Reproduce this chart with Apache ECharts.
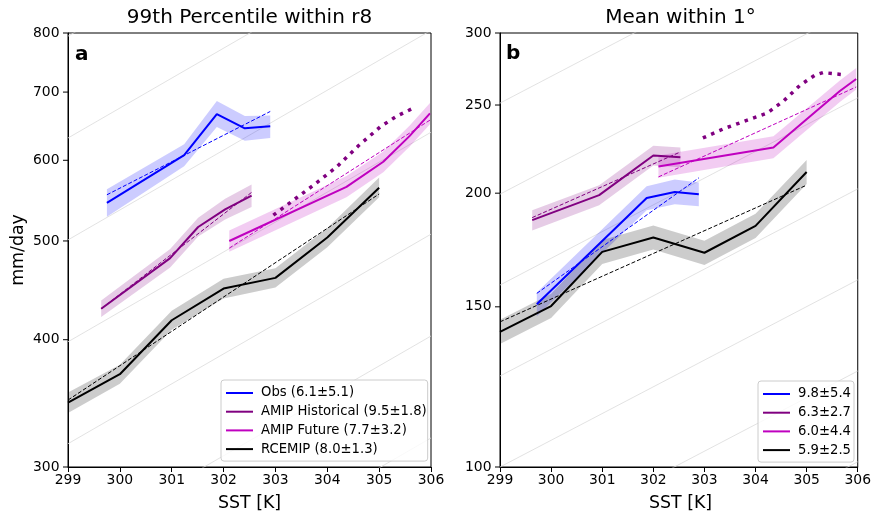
<!DOCTYPE html>
<html><head><meta charset="utf-8">
<script src="https://cdn.jsdelivr.net/npm/echarts@6/dist/echarts.min.js"></script>
<style>html,body{margin:0;padding:0;background:#fff}#c{width:874px;height:513px}</style>
</head><body><div id="c"></div>
<script>
// ---------- data ----------
const sstMin = 299, sstMax = 306;
const yTicksA = [300, 400, 500, 600, 700, 800];
const yTicksB = [100, 150, 200, 250, 300];

// Panel a : 99th percentile within r8
const obsA_sst = [299.75, 301.24, 301.87, 302.41, 302.90];
const obsA_val = [545, 607, 666, 645, 648];
const obsA_lo  = [528, 592, 647, 627, 631];
const obsA_hi  = [562, 622, 686, 663, 664];
const obsA_fitSst = [299.75, 302.90];
const obsA_fit    = [555, 670];

const histA_sst = [299.64, 300.97, 301.51, 302.03, 302.54];
const histA_val = [429, 481, 516, 537, 554];
const histA_lo  = [421, 471, 505, 525, 540];
const histA_hi  = [437, 491, 527, 550, 568];
const histA_fitSst = [299.64, 302.54];
const histA_fit    = [429, 558];

const futA_sst = [302.11, 304.37, 305.08, 305.59, 305.98];
const futA_val = [500, 565, 598, 634, 667];
const futA_lo  = [488, 552, 584, 619, 651];
const futA_hi  = [512, 579, 612, 649, 683];
const futA_fitSst = [302.11, 305.98];
const futA_fit    = [492, 657];

const rceA_sst = [299, 300, 301, 302, 303, 304, 305];
const rceA_val = [347, 370, 418, 449, 460, 504, 564];
const rceA_lo  = [339, 362, 409, 439, 450, 493, 552];
const rceA_hi  = [355, 378, 427, 459, 470, 515, 577];
const rceA_fitSst = [299, 305];
const rceA_fit    = [349, 556];

const dotA_sst = [302.96, 303.73, 304.18, 304.60, 305.02, 305.34, 305.71];
const dotA_val = [530, 567, 591, 620, 647, 663, 677];

// Panel b : mean within 1 degree
const obsB_sst = [299.72, 301.87, 302.42, 302.89];
const obsB_val = [151, 197.6, 200.6, 199.5];
const obsB_lo  = [146.5, 191.5, 194.5, 193.5];
const obsB_hi  = [155.5, 203.5, 207, 205.5];
const obsB_fitSst = [299.72, 302.89];
const obsB_fit    = [155.2, 207.9];

const histB_sst = [299.63, 300.94, 302.00, 302.53];
const histB_val = [186.8, 199, 220, 219];
const histB_lo  = [182, 194, 214.5, 213.5];
const histB_hi  = [191.5, 204, 225.5, 224.5];
const histB_fitSst = [299.63, 302.53];
const histB_fit    = [188, 222];

const futB_sst = [302.10, 304.35, 305.65, 305.97];
const futB_val = [214, 224.5, 259, 267];
const futB_lo  = [208, 218.5, 252, 260];
const futB_hi  = [220, 231, 266, 274.5];
const futB_fitSst = [302.10, 305.97];
const futB_fit    = [208.4, 261.7];

const rceB_sst = [299, 300, 301, 302, 303, 304, 305];
const rceB_val = [140.8, 150.3, 172.4, 178.8, 172, 184.1, 211];
const rceB_lo  = [136.5, 145.8, 167.2, 173.4, 166.8, 178.6, 204.7];
const rceB_hi  = [145.2, 155, 177.7, 184.3, 177.3, 189.8, 217.5];
const rceB_fitSst = [299, 305];
const rceB_fit    = [144.4, 204.1];

const dotB_sst = [302.97, 303.39, 303.84, 304.23, 304.55, 304.87, 305.16, 305.32, 305.71];
const dotB_val = [230, 235.6, 240.6, 245, 252.6, 262.8, 269.6, 271.4, 270];

// Clausius-Clapeyron guide lines (7 %/K), level at 299 K
const ccRate = 1.07;
const ccLevelsA = [199.5, 251.2, 316.2, 398.1, 501.2, 631.0, 794.3];
const ccLevelsB = [63.1, 79.4, 100, 125.9, 158.5, 199.5, 251.2];

const namesA = ['Obs (6.1±5.1)', 'AMIP Historical (9.5±1.8)', 'AMIP Future (7.7±3.2)', 'RCEMIP (8.0±1.3)'];
const namesB = ['9.8±5.4', '6.3±2.7', '6.0±4.4', '5.9±2.5'];

// ---------- styling ----------
const FONT = 'DejaVu Sans';
const C_OBS = '#0000ff', C_HIST = '#800080', C_FUT = '#bf00bf', C_RCE = '#000000';
const B_OBS = 'rgba(0,0,255,0.2)', B_HIST = 'rgba(128,0,128,0.2)', B_FUT = 'rgba(191,0,191,0.2)', B_RCE = 'rgba(0,0,0,0.2)';

function pts(xs, ys) { return xs.map((x, i) => [x, ys[i]]); }

function lineS(name, xs, ys, color, gi, z) {
  return { type: 'line', name: name, xAxisIndex: gi, yAxisIndex: gi, data: pts(xs, ys),
    symbol: 'none', showSymbol: false, color: color, silent: true, z: z || 5,
    lineStyle: { color: color, width: 2 }, emphasis: { disabled: true } };
}
function fitS(xs, ys, color, gi) {
  return { type: 'line', xAxisIndex: gi, yAxisIndex: gi, data: pts(xs, ys), symbol: 'none',
    silent: true, z: 4, lineStyle: { color: color, width: 1, type: [4, 2] }, emphasis: { disabled: true } };
}
function dotS(xs, ys, color, gi) {
  return { type: 'line', xAxisIndex: gi, yAxisIndex: gi, data: pts(xs, ys), symbol: 'none',
    silent: true, z: 5, lineStyle: { color: color, width: 3.5, type: [3.5, 5.5], cap: 'butt' },
    emphasis: { disabled: true } };
}
function bandS(xs, lo, hi, fill, gi) {
  return { type: 'custom', xAxisIndex: gi, yAxisIndex: gi, silent: true, z: 3,
    data: xs.map((x, i) => [x, lo[i], hi[i]]), encode: { x: 0, y: [1, 2] },
    renderItem: function (params, api) {
      if (params.dataIndex !== 0) return null;
      const p = [];
      for (let i = 0; i < xs.length; i++) p.push(api.coord([xs[i], hi[i]]));
      for (let i = xs.length - 1; i >= 0; i--) p.push(api.coord([xs[i], lo[i]]));
      return { type: 'polygon', shape: { points: p }, style: { fill: fill, stroke: null } };
    } };
}
function ccS(levels, gi) {
  return levels.map(v => ({ type: 'line', xAxisIndex: gi, yAxisIndex: gi, silent: true, z: 1,
    data: [[sstMin, v], [sstMax, v * Math.pow(ccRate, sstMax - sstMin)]], symbol: 'none',
    clip: true, lineStyle: { color: '#dadada', width: 0.8 }, emphasis: { disabled: true } }));
}
function yTickS(ticks, gi) {
  return { type: 'custom', xAxisIndex: gi, yAxisIndex: gi, silent: true, z: 10, clip: false,
    data: ticks.map(t => [sstMin, t]), encode: { x: 0, y: 1 },
    renderItem: function (params, api) {
      const v = api.value(1);
      const p = api.coord([api.value(0), v]);
      return { type: 'group', children: [
        { type: 'line', shape: { x1: p[0] - 5, y1: p[1], x2: p[0], y2: p[1] }, style: { stroke: '#000', lineWidth: 1 } },
        { type: 'text', x: p[0] - 8.5, y: p[1], style: { text: String(v), fontSize: 13.9, fontFamily: FONT,
          fill: '#000', align: 'right', verticalAlign: 'middle' } }
      ] };
    } };
}

function xAx(gi) {
  return { type: 'value', gridIndex: gi, min: sstMin, max: sstMax, interval: 1,
    axisLine: { show: true, onZero: false, lineStyle: { color: '#000', width: 1 } },
    axisTick: { show: true, length: 5, lineStyle: { color: '#000', width: 1 } },
    axisLabel: { fontSize: 13.9, fontFamily: FONT, color: '#000', margin: 6 },
    splitLine: { show: false } };
}
function yAx(gi, mn, mx) {
  return { type: 'log', logBase: 10, gridIndex: gi, min: mn, max: mx,
    axisLine: { show: true, lineStyle: { color: '#000', width: 1 } },
    axisTick: { show: false }, minorTick: { show: false }, axisLabel: { show: false },
    splitLine: { show: false }, minorSplitLine: { show: false } };
}
function legendOf(names, left, top, padR) {
  return { data: names, orient: 'vertical', left: left, top: top, icon: 'rect',
    itemWidth: 27, itemHeight: 2, itemGap: 4.7, padding: [6, padR, 5, 5], selectedMode: false,
    borderColor: '#cccccc', borderWidth: 1, borderRadius: 3, backgroundColor: 'rgba(255,255,255,0.8)',
    textStyle: { fontSize: 13.2, fontFamily: FONT, color: '#000', lineHeight: 14, padding: [0, 0, 0, 3] } };
}
function txt(t, x, y, size, opts) {
  return Object.assign({ type: 'text', x: x, y: y, z: 100,
    style: Object.assign({ text: t, fontSize: size, fontFamily: FONT, fill: '#000', align: 'center', verticalAlign: 'middle' },
      (opts && opts.style) || {}) }, (opts && opts.el) || {});
}

const series = [].concat(
  ccS(ccLevelsA, 0), ccS(ccLevelsB, 1),
  [
    bandS(obsA_sst, obsA_lo, obsA_hi, B_OBS, 0),
    bandS(histA_sst, histA_lo, histA_hi, B_HIST, 0),
    bandS(futA_sst, futA_lo, futA_hi, B_FUT, 0),
    bandS(rceA_sst, rceA_lo, rceA_hi, B_RCE, 0),
    fitS(obsA_fitSst, obsA_fit, C_OBS, 0),
    fitS(histA_fitSst, histA_fit, C_HIST, 0),
    fitS(futA_fitSst, futA_fit, C_FUT, 0),
    fitS(rceA_fitSst, rceA_fit, C_RCE, 0),
    lineS(namesA[0], obsA_sst, obsA_val, C_OBS, 0),
    lineS(namesA[1], histA_sst, histA_val, C_HIST, 0),
    lineS(namesA[2], futA_sst, futA_val, C_FUT, 0),
    lineS(namesA[3], rceA_sst, rceA_val, C_RCE, 0),
    dotS(dotA_sst, dotA_val, C_HIST, 0),
    yTickS(yTicksA, 0),

    bandS(obsB_sst, obsB_lo, obsB_hi, B_OBS, 1),
    bandS(histB_sst, histB_lo, histB_hi, B_HIST, 1),
    bandS(futB_sst, futB_lo, futB_hi, B_FUT, 1),
    bandS(rceB_sst, rceB_lo, rceB_hi, B_RCE, 1),
    fitS(obsB_fitSst, obsB_fit, C_OBS, 1),
    fitS(histB_fitSst, histB_fit, C_HIST, 1),
    fitS(futB_fitSst, futB_fit, C_FUT, 1),
    fitS(rceB_fitSst, rceB_fit, C_RCE, 1),
    lineS(namesB[0], obsB_sst, obsB_val, C_OBS, 1),
    lineS(namesB[1], histB_sst, histB_val, C_HIST, 1),
    lineS(namesB[2], futB_sst, futB_val, C_FUT, 1),
    lineS(namesB[3], rceB_sst, rceB_val, C_RCE, 1),
    dotS(dotB_sst, dotB_val, C_HIST, 1),
    yTickS(yTicksB, 1)
  ]
);

const option = {
  animation: false,
  backgroundColor: '#fff',
  grid: [
    { left: 68, top: 33, width: 363, height: 434, show: true, borderColor: '#000', borderWidth: 1, backgroundColor: 'transparent' },
    { left: 500, top: 33, width: 361, height: 434, show: true, borderColor: '#000', borderWidth: 1, backgroundColor: 'transparent' }
  ],
  xAxis: [xAx(0), xAx(1)],
  yAxis: [yAx(0, 300, 800), yAx(1, 100, 300)],
  legend: [legendOf(namesA, 221, 380, 1), legendOf(namesB, 758, 381, 3)],
  graphic: [
    txt('99th Percentile within r8', 249.5, 18, 20),
    txt('Mean within 1°', 680.5, 18, 20),
    txt('SST [K]', 249.5, 503, 17.4),
    txt('SST [K]', 680.5, 503, 17.4),
    txt('mm/day', 18, 250, 17.4, { el: { rotation: Math.PI / 2 } }),
    txt('a', 75, 55, 20, { style: { align: 'left', fontWeight: 'bold' } }),
    txt('b', 506, 54, 20, { style: { align: 'left', fontWeight: 'bold' } })
  ],
  series: series
};

const chart = echarts.init(document.getElementById('c'), null, { renderer: 'canvas' });
chart.setOption(option);
</script>
</body></html>
